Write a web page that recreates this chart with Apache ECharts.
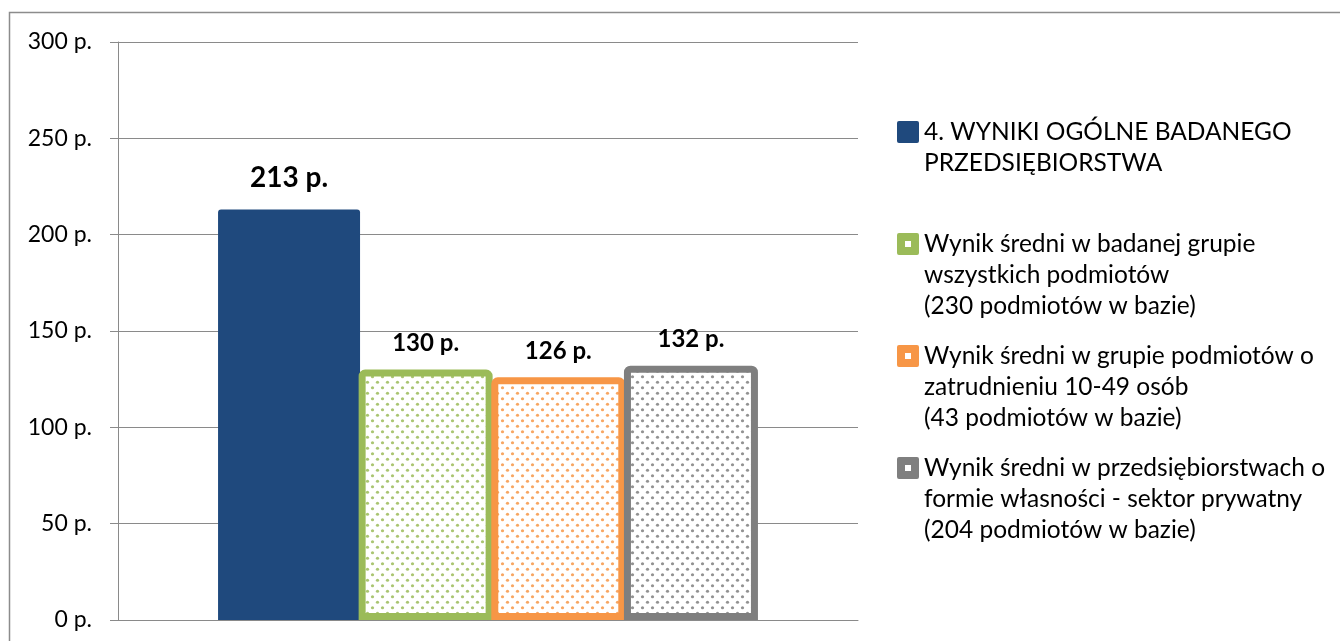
<!DOCTYPE html>
<html>
<head>
<meta charset="utf-8">
<title>Wyniki ogólne badanego przedsiębiorstwa</title>
<script src="https://cdn.jsdelivr.net/npm/echarts@6/dist/echarts.min.js"></script>
<style>
  html, body { margin: 0; padding: 0; background: #ffffff; }
  #chart { width: 1340px; height: 641px; }
</style>
</head>
<body>
<div id="chart"></div>
<script>
// ---- data ----
const categories = [''];
const seriesNames = [
  '4. WYNIKI OGÓLNE BADANEGO\nPRZEDSIĘBIORSTWA',
  'Wynik średni w badanej grupie\nwszystkich podmiotów\n(230 podmiotów w bazie)',
  'Wynik średni w grupie podmiotów o\nzatrudnieniu 10-49 osób\n(43 podmiotów w bazie)',
  'Wynik średni w przedsiębiorstwach o\nformie własności - sektor prywatny\n(204 podmiotów w bazie)'
];
const seriesValues = [213, 130, 126, 132];
const yMin = 0, yMax = 300, yStep = 50;
const unitSuffix = ' p.';

// ---- styling ----
const FONT = 'Lato, "Open Sans", sans-serif';
const colors = ['#1f497d', '#9bbb59', '#f79646', '#7f7f7f'];
const GRID_GRAY = '#8a8a8a';

// small dotted tile used as the fill of the comparison bars
function dotPattern(color) {
  const c = document.createElement('canvas');
  c.width = 10; c.height = 11;
  const ctx = c.getContext('2d');
  ctx.fillStyle = '#ffffff';
  ctx.fillRect(0, 0, 10, 11);
  ctx.fillStyle = color;
  ctx.globalAlpha = 0.85;
  [[2.5, 2.75], [7.5, 8.25]].forEach(function (p) {
    ctx.beginPath();
    ctx.arc(p[0], p[1], 1.6, 0, Math.PI * 2);
    ctx.fill();
  });
  return { image: c, repeat: 'repeat' };
}

// legend markers: a tall invisible box so the square sits beside the first text line
const boxFrame = 'M0,0 M0,93 ';
const roundSquare = 'M2,4.5 L20,4.5 Q22,4.5 22,6.5 L22,24.5 Q22,26.5 20,26.5 L2,26.5 Q0,26.5 0,24.5 L0,6.5 Q0,4.5 2,4.5 Z ';
const innerHole = 'M8,12.5 L8,18.5 L14,18.5 L14,12.5 Z';
const legendIcons = [
  'path://' + boxFrame + roundSquare,
  'path://' + boxFrame + roundSquare + innerHole,
  'path://' + boxFrame + roundSquare + innerHole,
  'path://' + boxFrame + roundSquare + innerHole
];

const series = seriesValues.map(function (v, i) {
  const first = i === 0;
  return {
    name: seriesNames[i],
    type: 'bar',
    data: [v],
    barWidth: first ? 142 : 134,
    barGap: '-1%',
    itemStyle: first
      ? { color: colors[i], borderRadius: [3, 3, 0, 0] }
      : { color: dotPattern(colors[i]), borderColor: colors[i], borderWidth: 7, borderRadius: [3, 3, 0, 0] },
    label: {
      show: true,
      position: 'top',
      distance: first ? 18 : 14,
      formatter: function (p) { return p.value + unitSuffix; },
      fontFamily: FONT,
      fontWeight: 'bold',
      fontSize: first ? 28 : 24,
      color: '#000000'
    },
    emphasis: { disabled: true }
  };
});

const chart = echarts.init(document.getElementById('chart'));
chart.setOption({
  animation: false,
  backgroundColor: '#ffffff',
  grid: { left: 118, right: 482, top: 42, bottom: 21, containLabel: false, outerBoundsMode: 'none' },
  xAxis: {
    type: 'category',
    data: categories,
    axisLine: { show: true, lineStyle: { color: GRID_GRAY, width: 1 } },
    axisTick: { show: false },
    axisLabel: { show: false },
    splitLine: { show: false }
  },
  yAxis: {
    type: 'value',
    min: yMin,
    max: yMax,
    interval: yStep,
    axisLine: { show: true, lineStyle: { color: GRID_GRAY, width: 1 } },
    axisTick: { show: true, length: 8, lineStyle: { color: GRID_GRAY } },
    axisLabel: {
      margin: 26,
      formatter: function (v) { return v + unitSuffix; },
      fontFamily: FONT,
      fontSize: 23,
      color: '#000000'
    },
    splitLine: { show: true, lineStyle: { color: GRID_GRAY, width: 1 } }
  },
  legend: {
    orient: 'vertical',
    left: 892,
    top: 111.5,
    itemWidth: 22,
    itemHeight: 93,
    itemGap: 19,
    selectedMode: false,
    formatter: function (name) {
      // pad every entry to three lines so all entries get the same height
      let lines = name.split('\n').length;
      let out = name;
      while (lines < 3) { out += '\n '; lines++; }
      return out;
    },
    textStyle: { fontFamily: FONT, fontSize: 24.5, lineHeight: 31, color: '#000000' },
    data: seriesNames.map(function (n, i) {
      return { name: n, icon: legendIcons[i], itemStyle: { color: colors[i], borderWidth: 0 } };
    })
  },
  graphic: [{
    type: 'rect',
    silent: true,
    shape: { x: 9.5, y: 12.5, width: 1400, height: 700 },
    style: { fill: 'none', stroke: '#8c8c8c', lineWidth: 1.5 },
    z: 100
  }],
  series: series
});
</script>
</body>
</html>
